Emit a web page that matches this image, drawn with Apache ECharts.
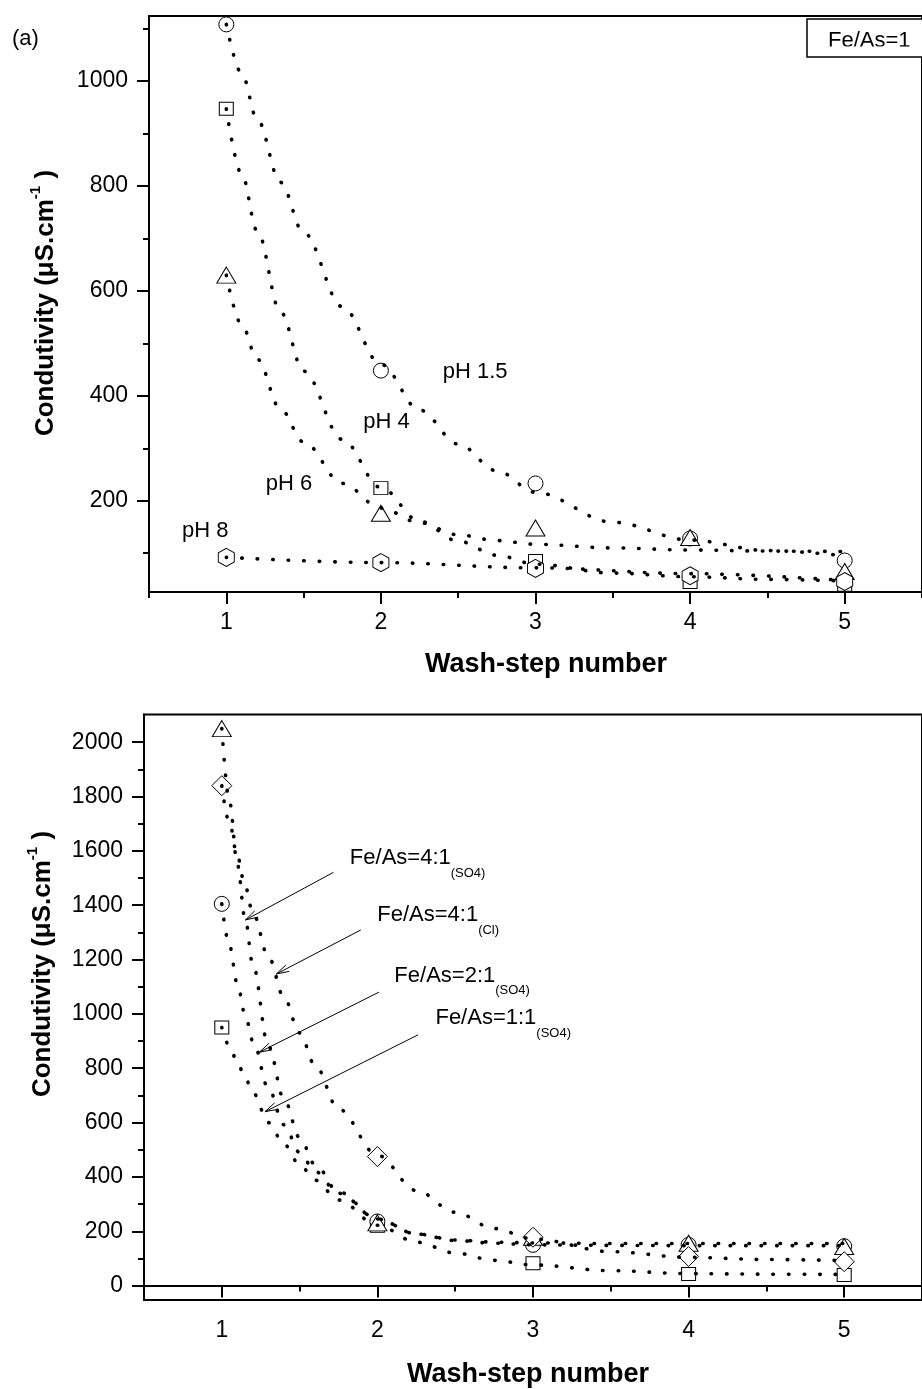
<!DOCTYPE html>
<html>
<head>
<meta charset="utf-8">
<script src="https://cdn.jsdelivr.net/npm/echarts@6/dist/echarts.min.js"></script>
<style>
  html, body { margin: 0; padding: 0; background: #fff; }
  #chart { width: 922px; height: 1389px; }
</style>
</head>
<body>
<div id="chart"></div>
<script>
const FONT = "'Liberation Sans', Arial, Helvetica, sans-serif";

// ---- shared wash-step axis ----
const washSteps = [1, 2, 3, 4, 5];
const stepTicks = [1, 2, 3, 4, 5];
const stepMinorTicks = [0.5, 1.5, 2.5, 3.5, 4.5, 5.5];

// ---- panel (a): Fe/As = 1 at four pH values (µS/cm) ----
const condPH15 = [1108, 448, 233, 128, 86];
const condPH4  = [947, 224, 85, 45, 40];
const condPH6  = [630, 176, 148, 130, 65];
const condPH8  = [92, 82, 71, 57, 46];

// dotted decay traces for panel (a), sampled along each curve
const traceStepsA = [1, 1.1, 1.2, 1.35, 1.5, 1.75, 2, 2.25, 2.5, 2.75, 3, 3.5, 4, 4.5, 5];
const tracePH15 = [1108, 1014, 927, 807, 711, 570, 460, 373, 308, 257, 216, 159, 125, 105, 95];
const tracePH4  = [947, 822, 714, 560, 447, 317, 225, 161, 123, 96, 79, 62, 55, 50, 47];
const tracePH6  = [630, 535, 470, 375, 312, 233, 186, 158, 135, 124, 117, 110, 106, 104, 103];
const traceStepsPH8 = [1, 2, 3, 4, 5];
const tracePH8  = [92, 82, 72, 61, 48];

const condTicksA = [200, 400, 600, 800, 1000];
const condMinorTicksA = [100, 300, 500, 700, 900, 1100];

// ---- panel (b): four Fe/As ratios / anions (µS/cm) ----
const condFe4SO4 = [2050, 231, 178, 156, 144];
const condFe4Cl  = [1840, 475, 178, 107, 88];
const condFe2SO4 = [1405, 236, 150, 150, 145];
const condFe1SO4 = [950, 220, 82, 43, 39];

const traceStepsB = [1, 1.05, 1.1, 1.15, 1.2, 1.3, 1.4, 1.5, 1.6, 1.75, 2, 2.25, 2.5, 2.75, 3, 3.5, 4, 4.5, 5];
const traceFe4SO4 = [2050, 1780, 1550, 1350, 1180, 880, 686, 545, 445, 345, 245, 190, 168, 160, 157, 155, 155, 155, 155];
const traceFe4Cl  = [1840, 1700, 1580, 1470, 1370, 1210, 1060, 930, 810, 650, 480, 350, 270, 210, 172, 125, 104, 96, 92];
const traceFe2SO4 = [1405, 1250, 1110, 996, 900, 725, 592, 490, 420, 340, 245, 190, 166, 156, 150, 148, 147, 147, 147];
const traceFe1SO4 = [950, 880, 822, 765, 710, 600, 520, 445, 388, 315, 222, 160, 120, 93, 76, 55, 44, 42, 41];

const condTicksB = [0, 200, 400, 600, 800, 1000, 1200, 1400, 1600, 1800, 2000];
const condMinorTicksB = [100, 300, 500, 700, 900, 1100, 1300, 1500, 1700, 1900];

// ---- annotations ----
const phLabels = ['pH 1.5', 'pH 4', 'pH 6', 'pH 8'];
const phLabelAt = [[2.40, 446], [1.886, 351], [1.255, 232], [0.713, 142]];

const ratioLabels = ['Fe/As=4:1', 'Fe/As=4:1', 'Fe/As=2:1', 'Fe/As=1:1'];
const ratioSubs = ['(SO4)', '(Cl)', '(SO4)', '(SO4)'];
const ratioLabelAt = [[1.823, 1574], [1.999, 1364], [2.109, 1140], [2.373, 985]];
const arrowFrom = [[1.7175, 1521], [1.8933, 1309], [2.0095, 1080], [2.2616, 923]];
const arrowTo = [[1.1524, 1346], [1.3511, 1147], [1.2413, 859], [1.2775, 640]];

const pairs = (xs, ys) => xs.map((x, i) => [x, ys[i]]);
const HEXAGON = 'path://M0 -10 L8.66 -5 L8.66 5 L0 10 L-8.66 5 L-8.66 -5 Z';

const chart = echarts.init(document.getElementById('chart'), null, { renderer: 'canvas' });

function markerSeries(grid, data, symbol, size) {
  return {
    type: 'scatter', xAxisIndex: grid * 2, yAxisIndex: grid * 2,
    data: pairs(washSteps, data), symbol: symbol, symbolSize: size,
    itemStyle: { color: '#fff', borderColor: '#000', borderWidth: 1, opacity: 1 },
    emphasis: { disabled: true }, silent: true, z: 3
  };
}
function traceSeries(grid, xs, ys) {
  return {
    type: 'line', xAxisIndex: grid * 2, yAxisIndex: grid * 2,
    data: pairs(xs, ys), showSymbol: false, smooth: 0.35, smoothMonotone: 'x',
    lineStyle: { color: '#000', width: 3.6, type: [0.5, 15], cap: 'round' },
    emphasis: { disabled: true }, silent: true, z: 4
  };
}
const plainNumber = v => String(v);
function mainX(grid, labelMargin) {
  return {
    type: 'value', gridIndex: grid, min: 0.5, max: 5.5, position: 'bottom',
    axisLine: { show: true, lineStyle: { color: '#000', width: 2 } },
    axisTick: { show: true, length: 12, lineStyle: { color: '#000', width: 2 }, customValues: stepTicks },
    axisLabel: { show: true, customValues: stepTicks, formatter: plainNumber, margin: labelMargin, fontSize: 23, color: '#000', fontFamily: FONT },
    splitLine: { show: false }
  };
}
function minorX(grid) {
  return {
    type: 'value', gridIndex: grid, min: 0.5, max: 5.5, position: 'bottom',
    axisLine: { show: false },
    axisTick: { show: true, length: 6, lineStyle: { color: '#000', width: 2 }, customValues: stepMinorTicks },
    axisLabel: { show: false }, splitLine: { show: false }
  };
}
function mainY(grid, min, max, ticks) {
  return {
    type: 'value', gridIndex: grid, min: min, max: max, position: 'left',
    axisLine: { show: true, lineStyle: { color: '#000', width: 2 } },
    axisTick: { show: true, length: 12, lineStyle: { color: '#000', width: 2 }, customValues: ticks },
    axisLabel: { show: true, customValues: ticks, formatter: plainNumber, margin: 21, fontSize: 23, color: '#000', fontFamily: FONT },
    splitLine: { show: false }
  };
}
function minorY(grid, min, max, ticks) {
  return {
    type: 'value', gridIndex: grid, min: min, max: max, position: 'left',
    axisLine: { show: false },
    axisTick: { show: true, length: 6, lineStyle: { color: '#000', width: 2 }, customValues: ticks },
    axisLabel: { show: false }, splitLine: { show: false }
  };
}

chart.setOption({
  animation: false,
  backgroundColor: '#fff',
  grid: [
    { left: 149, top: 16, width: 784.4, height: 576, show: true, borderColor: '#000', borderWidth: 2, backgroundColor: 'transparent' },
    { left: 144, top: 714.5, width: 786.75, height: 585.5, show: true, borderColor: '#000', borderWidth: 2, backgroundColor: 'transparent' }
  ],
  xAxis: [mainX(0, 19), minorX(0), mainX(1, 19), minorX(1)],
  yAxis: [
    mainY(0, 26, 1124, condTicksA), minorY(0, 26, 1124, condMinorTicksA),
    mainY(1, -53, 2102, condTicksB), minorY(1, -53, 2102, condMinorTicksB)
  ],
  series: [
    markerSeries(0, condPH15, 'circle', 15),
    markerSeries(0, condPH4, 'rect', [14, 13]),
    markerSeries(0, condPH6, 'triangle', [19, 16]),
    markerSeries(0, condPH8, HEXAGON, [16, 18]),
    traceSeries(0, traceStepsA, tracePH15),
    traceSeries(0, traceStepsA, tracePH4),
    traceSeries(0, traceStepsA, tracePH6),
    traceSeries(0, traceStepsPH8, tracePH8),

    markerSeries(1, condFe1SO4, 'rect', [14, 13]),
    markerSeries(1, condFe2SO4, 'circle', 15),
    markerSeries(1, condFe4SO4, 'triangle', [19, 16]),
    markerSeries(1, condFe4Cl, 'diamond', [20, 20]),
    traceSeries(1, traceStepsB, traceFe1SO4),
    traceSeries(1, traceStepsB, traceFe2SO4),
    traceSeries(1, traceStepsB, traceFe4SO4),
    traceSeries(1, traceStepsB, traceFe4Cl)
  ]
});

// ---- text, titles and arrows laid out on top of the plots ----
const measure = document.createElement('canvas').getContext('2d');
function textWidth(str, font) { measure.font = font; return measure.measureText(str).width; }
const toPx = (grid, pt) => chart.convertToPixel({ xAxisIndex: grid * 2, yAxisIndex: grid * 2 }, pt);

function plainText(x, y, str, size, style) {
  return {
    type: 'text', x: x, y: y, silent: true, z: 10,
    style: Object.assign({ text: str, font: size + 'px ' + FONT, fill: '#000', align: 'left', verticalAlign: 'middle' }, style || {})
  };
}

function yTitle(cx, cy) {
  const mainFont = 'bold 26px ' + FONT;
  const supFont = 'bold 15px ' + FONT;
  const a = 'Condutivity (\u03bcS.cm', b = '-1', c = ' )';
  const wa = textWidth(a, mainFont), wb = textWidth(b, supFont), wc = textWidth(c, mainFont);
  const start = -(wa + wb + wc) / 2;
  return {
    type: 'group', x: cx, y: cy, rotation: Math.PI / 2, silent: true, z: 10,
    children: [
      { type: 'text', x: start, y: 0, style: { text: a, font: mainFont, fill: '#000', align: 'left', verticalAlign: 'middle' } },
      { type: 'text', x: start + wa, y: -10, style: { text: b, font: supFont, fill: '#000', align: 'left', verticalAlign: 'middle' } },
      { type: 'text', x: start + wa + wb, y: 0, style: { text: c, font: mainFont, fill: '#000', align: 'left', verticalAlign: 'middle' } }
    ]
  };
}

function arrow(grid, from, to) {
  const p0 = toPx(grid, from), p1 = toPx(grid, to);
  const ang = Math.atan2(p0[1] - p1[1], p0[0] - p1[0]);
  const len = 13, spread = 0.28;
  const h1 = [p1[0] + len * Math.cos(ang + spread), p1[1] + len * Math.sin(ang + spread)];
  const h2 = [p1[0] + len * Math.cos(ang - spread), p1[1] + len * Math.sin(ang - spread)];
  const stroke = { stroke: '#000', lineWidth: 1, fill: null };
  return [
    { type: 'line', silent: true, z: 10, shape: { x1: p0[0], y1: p0[1], x2: p1[0], y2: p1[1] }, style: stroke },
    { type: 'polyline', silent: true, z: 10, shape: { points: [h1, p1, h2] }, style: stroke }
  ];
}

const graphics = [];
graphics.push(plainText(12, 39, '(a)', 22));

// boxed note in the top-right corner of panel (a)
graphics.push({ type: 'rect', silent: true, z: 10, shape: { x: 807, y: 19, width: 130, height: 38 }, style: { fill: '#fff', stroke: '#000', lineWidth: 1.5 } });
graphics.push(plainText(828, 41, 'Fe/As=1', 22));
graphics.push({ type: 'rect', silent: true, z: 11, shape: { x: 808.5, y: 46.5, width: 120, height: 9.5 }, style: { fill: '#fff' } });

phLabels.forEach((t, i) => {
  const p = toPx(0, phLabelAt[i]);
  graphics.push(plainText(p[0], p[1], t, 22));
});

ratioLabels.forEach((t, i) => {
  const p = toPx(1, ratioLabelAt[i]);
  const w = textWidth(t, '22px ' + FONT);
  graphics.push(plainText(p[0], p[1], t, 22));
  graphics.push(plainText(p[0] + w, p[1] + 15, ratioSubs[i], 13));
  arrow(1, arrowFrom[i], arrowTo[i]).forEach(g => graphics.push(g));
});

graphics.push(yTitle(46, 303));
graphics.push(yTitle(43, 964));
const xTitleStyle = { align: 'center', font: 'bold 27px ' + FONT };
graphics.push(plainText(546, 665, 'Wash-step number', 27, xTitleStyle));
graphics.push(plainText(528, 1375, 'Wash-step number', 27, xTitleStyle));

chart.setOption({ graphic: graphics });
</script>
</body>
</html>
